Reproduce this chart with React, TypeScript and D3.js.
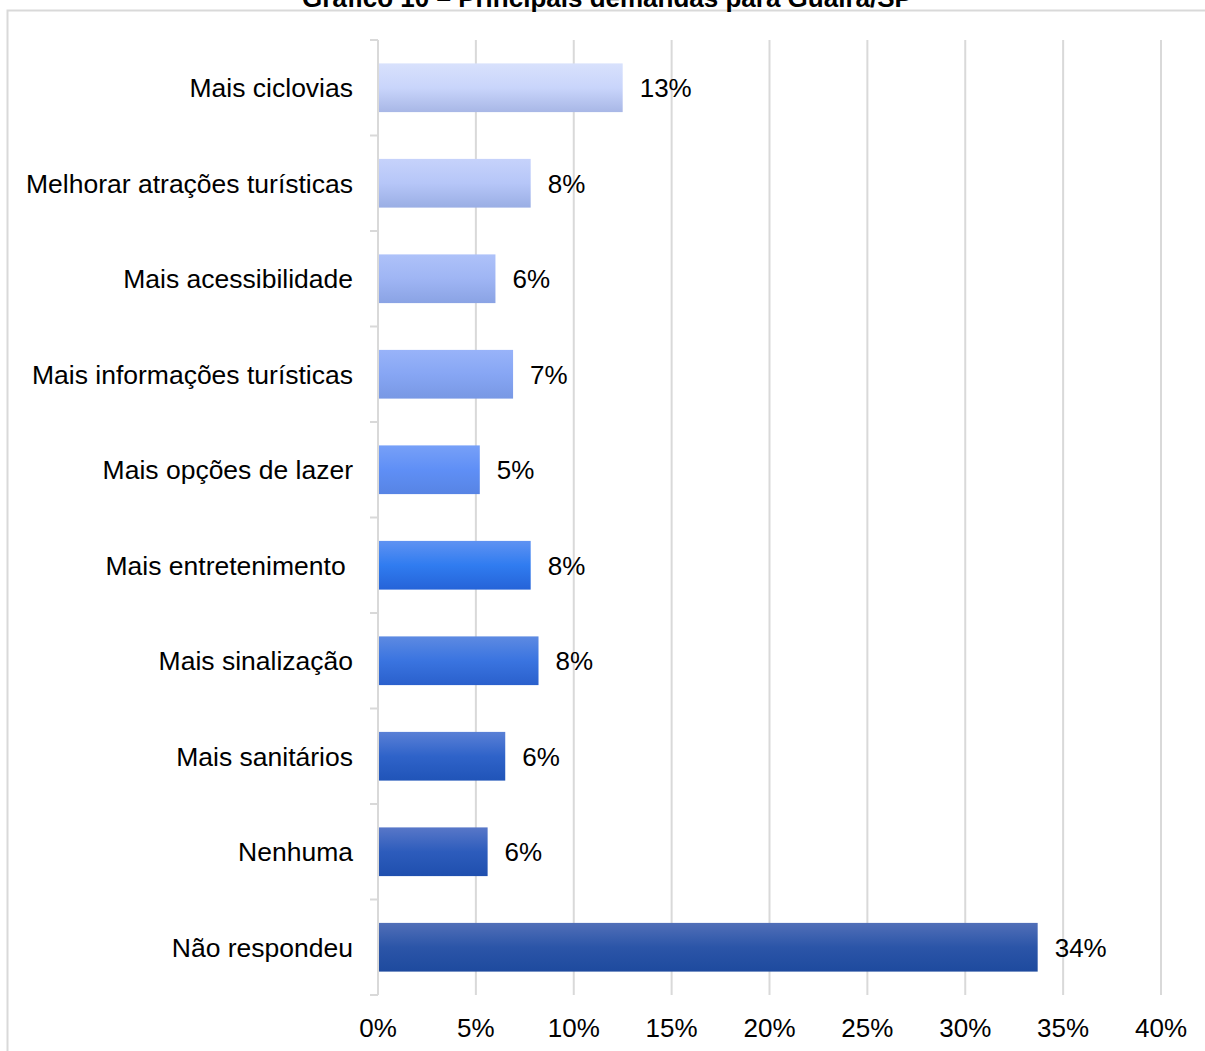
import React from "react";
import * as d3 from "d3";

const title = "Gráfico 10 – Principais demandas para Guaíra/SP";
const categories = [
  "Mais ciclovias",
  "Melhorar atrações turísticas",
  "Mais acessibilidade",
  "Mais informações turísticas",
  "Mais opções de lazer",
  "Mais entretenimento ",
  "Mais sinalização",
  "Mais sanitários",
  "Nenhuma",
  "Não respondeu",
];
const values = [12.5, 7.8, 6.0, 6.9, 5.2, 7.8, 8.2, 6.5, 5.6, 33.7];
const valueLabels = ["13%", "8%", "6%", "7%", "5%", "8%", "8%", "6%", "6%", "34%"];
const xTicks = [0, 5, 10, 15, 20, 25, 30, 35, 40];
const gradTop = ["#d8e1fc", "#c6d2fb", "#aec2f9", "#98b3f9", "#77a0f8", "#5f92f2", "#5d8ae2", "#5a80d6", "#5877c8", "#516fb8"];
const gradMid = ["#c9d5fb", "#b6c6f8", "#9fb5f4", "#87a6f4", "#5f8ff6", "#307cf0", "#3a74e0", "#2f63c9", "#2d5cbc", "#2b55a8"];
const gradBot = ["#a8b7e6", "#9aaee4", "#8aa3e4", "#7898e4", "#5784e4", "#2563d8", "#2a60cc", "#2054b8", "#1f4fae", "#1e4a9e"];

const W = 1205;
const H = 1051;
const FONT = "Arial, 'Liberation Sans', sans-serif";

export default function App() {
  const x = d3.scaleLinear().domain([0, 40]).range([378, 1161]);
  const y = d3.scaleBand().domain(categories).range([40, 995]).paddingInner(0.49).paddingOuter(0.245);
  const boundaries = d3.range(categories.length + 1).map((i) => 40 + i * ((995 - 40) / categories.length));

  return (
    <svg width={W} height={H} style={{ position: "absolute", left: 0, top: 0, display: "block", background: "#fff" }}>
      <defs>
        {categories.map((c, i) => (
          <linearGradient key={c} id={`g${i}`} x1="0" y1="0" x2="0" y2="1">
            <stop offset="0%" stopColor={gradTop[i]} />
            <stop offset="50%" stopColor={gradMid[i]} />
            <stop offset="100%" stopColor={gradBot[i]} />
          </linearGradient>
        ))}
      </defs>
      <rect x={7.5} y={10.5} width={W + 10} height={H + 10} fill="none" stroke="#d9d9d9" strokeWidth={2} />
      <text x={607} y={7} textAnchor="middle" fontFamily={FONT} fontWeight="bold" fontSize={26} fill="#000">
        {title}
      </text>
      {xTicks.slice(1).map((t) => (
        <line key={t} x1={x(t)} x2={x(t)} y1={40} y2={995} stroke="#d9d9d9" strokeWidth={2} />
      ))}
      <line x1={378} x2={378} y1={40} y2={995} stroke="#d9d9d9" strokeWidth={2} />
      {boundaries.map((b, i) => (
        <line key={i} x1={370} x2={378} y1={b} y2={b} stroke="#d9d9d9" strokeWidth={2} />
      ))}
      {categories.map((c, i) => {
        const by = y(c)!;
        const cy = by + y.bandwidth() / 2;
        return (
          <g key={c}>
            <rect x={x(0) + 1} y={by} width={x(values[i]) - x(0) - 1} height={y.bandwidth()} fill={`url(#g${i})`} />
            <text x={x(values[i]) + 17} y={cy} dy="0.36em" fontFamily={FONT} fontSize={26} fill="#000">
              {valueLabels[i]}
            </text>
            <text x={353} y={cy} dy="0.36em" textAnchor="end" fontFamily={FONT} fontSize={26.5} fill="#000" style={{ whiteSpace: "pre" }}>
              {c}
            </text>
          </g>
        );
      })}
      {xTicks.map((t) => (
        <text key={t} x={x(t)} y={1037} textAnchor="middle" fontFamily={FONT} fontSize={26} fill="#000">
          {t}%
        </text>
      ))}
    </svg>
  );
}
